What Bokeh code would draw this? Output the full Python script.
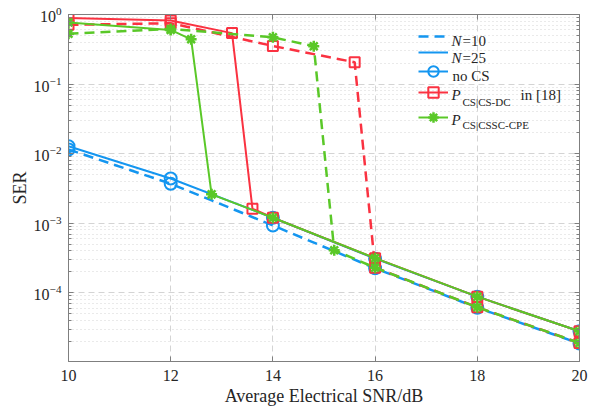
from bokeh.plotting import figure
from bokeh.models import (FixedTicker, LinearAxis, LogAxis, Label, Legend,
                          LegendItem, Range1d, CustomJSTickFormatter,
                          LogTickFormatter)
from bokeh.core.properties import value
from bokeh.embed import file_html
from bokeh.resources import INLINE

# ---- SER versus average electrical SNR ----
snr = [10, 12, 14, 16, 18, 20]
ser_nocs_n10 = [1.15e-2, 3.7e-3, 9.3e-4, 2.25e-4, 6.1e-5, 1.87e-5]
ser_nocs_n25 = [1.28e-2, 4.4e-3, 1.2e-3, 3.1e-4, 8.8e-5, 2.8e-5]

snr_csdc_n10 = [10, 12, 14, 15.6, 16, 18, 20]
ser_csdc_n10 = [0.71, 0.75, 0.353, 0.206, 2.3e-4, 6.2e-5, 1.9e-5]
snr_csdc_n25 = [10, 12, 13.2, 13.6, 14, 16, 18, 20]
ser_csdc_n25 = [0.89, 0.82, 0.54, 1.62e-3, 1.2e-3, 3.15e-4, 8.8e-5, 2.8e-5]

snr_cssc_n10 = [10, 12, 14, 14.8, 15.2, 16, 18, 20]
ser_cssc_n10 = [0.53, 0.62, 0.47, 0.35, 4.1e-4, 2.3e-4, 6.2e-5, 1.9e-5]
snr_cssc_n25 = [10, 12, 12.4, 12.8, 14, 16, 18, 20]
ser_cssc_n25 = [0.77, 0.6, 0.44, 2.6e-3, 1.2e-3, 3.15e-4, 8.8e-5, 2.8e-5]

x_ticks = [10, 12, 14, 16, 18, 20]
y_decades = [0, -1, -2, -3, -4]

BLUE = "#1496f0"
RED = "#fa3241"
GREEN = "#5ac828"
TXT = "#262626"
AXC = "#7f7f7f"
FONT = "Liberation Serif"

# frame edges in canvas pixels (left, bottom)
FL, FB = 68, 361

p = figure(width=595, height=409, y_axis_type="log",
           x_range=Range1d(10, 20), y_range=Range1d(1.03e-5, 1.0),
           output_backend="svg", toolbar_location=None,
           min_border_left=FL, min_border_right=16, min_border_top=14,
           min_border_bottom=409 - FB)
p.outline_line_color = AXC
p.background_fill_color = "white"

y_major = [10.0 ** d for d in y_decades]
y_minor = [k * 10.0 ** d for d in range(-5, 0) for k in range(2, 10)]
xt = FixedTicker(ticks=x_ticks)
yt = FixedTicker(ticks=y_major, minor_ticks=y_minor)
blank = CustomJSTickFormatter(code="return ''")

xa = p.xaxis[0]
xa.ticker = xt
xa.major_tick_in, xa.major_tick_out = 5, 0
xa.minor_tick_in, xa.minor_tick_out = 0, 0
xa.axis_line_color = AXC
xa.major_tick_line_color = AXC
xa.major_label_text_font = FONT
xa.major_label_text_font_size = "16px"
xa.major_label_text_color = TXT
xa.major_label_standoff = 8
xa.axis_label = "Average Electrical SNR/dB"
xa.axis_label_text_font = FONT
xa.axis_label_text_font_size = "18px"
xa.axis_label_text_font_style = "normal"
xa.axis_label_text_color = TXT
xa.axis_label_standoff = 2

ya = p.yaxis[0]
ya.ticker = yt
ya.formatter = LogTickFormatter()
ya.major_tick_in, ya.major_tick_out = 5, 0
ya.minor_tick_in, ya.minor_tick_out = 3, 0
ya.axis_line_color = AXC
ya.major_tick_line_color = AXC
ya.minor_tick_line_color = AXC
ya.major_label_text_font = FONT
ya.major_label_text_font_size = "16px"
ya.major_label_text_color = TXT
ya.major_label_standoff = 7
ya.axis_label = "SER"
ya.axis_label_text_font = FONT
ya.axis_label_text_font_size = "18px"
ya.axis_label_text_font_style = "normal"
ya.axis_label_text_color = TXT
ya.axis_label_standoff = 1

top = LinearAxis(ticker=xt, formatter=blank, major_tick_in=5, major_tick_out=0,
                 minor_tick_in=0, minor_tick_out=0, axis_line_color=AXC,
                 major_tick_line_color=AXC, major_label_standoff=0)
right = LogAxis(ticker=yt, formatter=blank, major_tick_in=5, major_tick_out=0,
                minor_tick_in=3, minor_tick_out=0, axis_line_color=AXC,
                major_tick_line_color=AXC, minor_tick_line_color=AXC,
                major_label_standoff=0)
p.add_layout(top, "above")
p.add_layout(right, "right")

p.xgrid.ticker = xt
p.ygrid.ticker = yt
for g in (p.xgrid[0], p.ygrid[0]):
    g.grid_line_color = "#d4d4d4"
    g.grid_line_dash = "6 4"
    g.grid_line_width = 1
p.ygrid.minor_grid_line_color = "#d4d4d4"
p.ygrid.minor_grid_line_dash = "1 3"

DASH = "10 6"

# no CS
r_b10 = p.line(snr, ser_nocs_n10, color=BLUE, line_width=2.5, line_dash=DASH)
p.scatter(snr, ser_nocs_n10, marker="circle", size=12, line_color=BLUE,
          line_width=2, fill_color=None)
r_b25 = p.line(snr, ser_nocs_n25, color=BLUE, line_width=2)
r_b25m = p.scatter(snr, ser_nocs_n25, marker="circle", size=12, line_color=BLUE,
                   line_width=2, fill_color=None)

# CS-DC
p.line(snr_csdc_n10, ser_csdc_n10, color=RED, line_width=2.5, line_dash=DASH)
p.scatter(snr_csdc_n10, ser_csdc_n10, marker="square", size=10, line_color=RED,
          line_width=2, fill_color=None)
r_r25 = p.line(snr_csdc_n25, ser_csdc_n25, color=RED, line_width=2)
r_r25m = p.scatter(snr_csdc_n25, ser_csdc_n25, marker="square", size=10,
                   line_color=RED, line_width=2, fill_color=None)

# CSSC-CPE
p.line(snr_cssc_n10, ser_cssc_n10, color=GREEN, line_width=2.5, line_dash=DASH)
p.scatter(snr_cssc_n10, ser_cssc_n10, marker="asterisk", size=11,
          line_color=GREEN, line_width=2.5)
r_g25 = p.line(snr_cssc_n25, ser_cssc_n25, color=GREEN, line_width=2)
r_g25m = p.scatter(snr_cssc_n25, ser_cssc_n25, marker="asterisk", size=11,
                   line_color=GREEN, line_width=2.5)

# legend: one sample per row, text set beside it
GH = 26
rows = [([r_b10], 35.5), ([r_b25], 52.0), ([r_b25, r_b25m], 70.7),
        ([r_r25, r_r25m], 91.5), ([r_g25, r_g25m], 117.0)]
for rends, cy in rows:
    lg = Legend(items=[LegendItem(label=value(" "), renderers=rends)],
                location=(418 - FL, FB - cy - GH / 2), glyph_width=30,
                glyph_height=GH, label_width=0, label_height=0,
                label_standoff=0, padding=0, margin=0, spacing=0,
                border_line_alpha=0, background_fill_alpha=0,
                label_text_font_size="1px")
    p.add_layout(lg)


def note(text, x, y, size="15px", style="normal"):
    p.add_layout(Label(x=x - FL, y=FB - y, x_units="screen", y_units="screen",
                       text=text, text_font=FONT, text_font_size=size,
                       text_font_style=style, text_color=TXT,
                       text_baseline="alphabetic", text_align="left"))


note("N", 451, 40.0, style="italic")
note("=10", 462, 40.0)
note("N", 451, 57.3, style="italic")
note("=25", 462, 57.3)
note("no CS", 452, 75.7)
note("P", 451, 94.7, style="italic")
note("CS|CS-DC", 462, 101.3, size="11px")
note("in [18]", 520, 94.7)
note("P", 451, 119.5, style="italic")
note("CS|CSSC-CPE", 462, 124.7, size="11px")

open("out.html", "w").write(file_html(p, INLINE))
